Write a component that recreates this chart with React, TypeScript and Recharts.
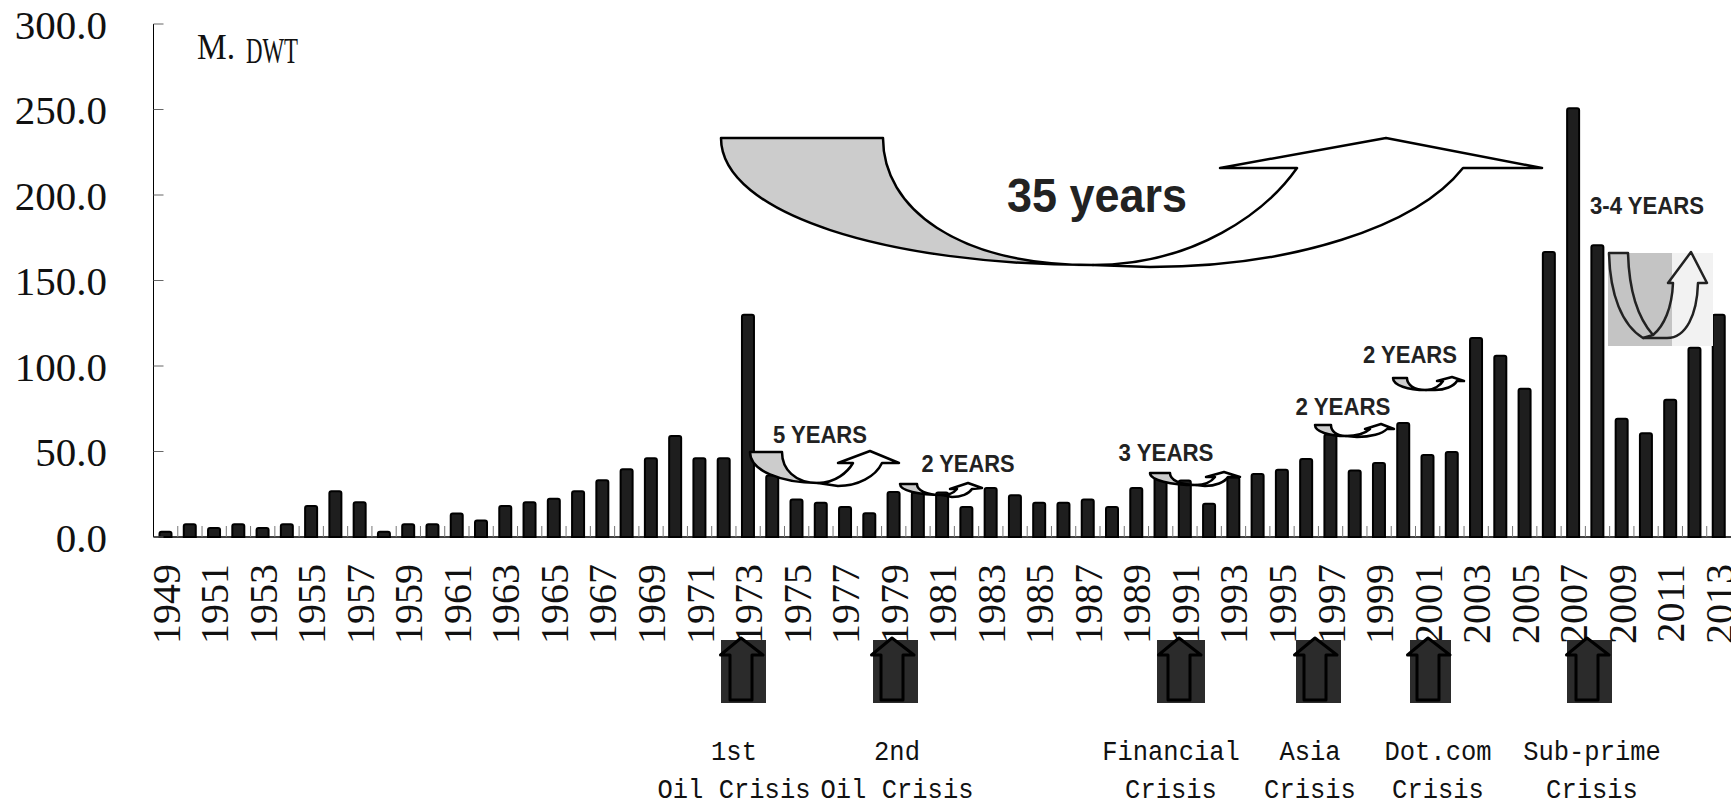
import React from 'react'
import { BarChart, Bar, XAxis, YAxis } from 'recharts'

// newbuilding deliveries, million DWT
const years = [
  '1949', '1950', '1951', '1952', '1953', '1954', '1955', '1956', '1957', '1958',
  '1959', '1960', '1961', '1962', '1963', '1964', '1965', '1966', '1967', '1968',
  '1969', '1970', '1971', '1972', '1973', '1974', '1975', '1976', '1977', '1978',
  '1979', '1980', '1981', '1982', '1983', '1984', '1985', '1986', '1987', '1988',
  '1989', '1990', '1991', '1992', '1993', '1994', '1995', '1996', '1997', '1998',
  '1999', '2000', '2001', '2002', '2003', '2004', '2005', '2006', '2007', '2008',
  '2009', '2010', '2011', '2012', '2013',
]
const mdwt = [
  3.1, 7.4, 5.3, 7.4, 5.3, 7.4, 18.1, 26.7, 20.3, 3.1,
  7.4, 7.4, 13.8, 9.6, 18.1, 20.3, 22.4, 26.7, 33.2, 39.6,
  46, 59, 46, 46, 130, 36, 22, 20, 17.6, 13.9,
  26.3, 26, 26, 17.6, 28.7, 24.4, 20, 20, 22, 17.6,
  28.7, 37, 33, 19.5, 34.8, 36.9, 39.4, 45.6, 60, 38.9,
  43.3, 66.7, 48, 49.7, 116.4, 106, 86.7, 166.7, 250.7, 170.6,
  69.2, 60.7, 80.2, 110.6, 129.9,
]
const yTicks = [0, 50, 100, 150, 200, 250, 300]

const crisisTop = ['1st', '2nd', 'Financial', 'Asia', 'Dot.com', 'Sub-prime']
const crisisBottom = ['Oil Crisis', 'Oil Crisis', 'Crisis', 'Crisis', 'Crisis', 'Crisis']
const cycleLabels = ['5 YEARS', '2 YEARS', '3 YEARS', '2 YEARS', '2 YEARS', '3-4 YEARS']

const data = years.map((year, i) => ({ year, value: mdwt[i] }))

const W = 1731
const H = 807
const AXIS_X = 153.5
const BASE_Y = 537
const BAND = (W - AXIS_X) / years.length

// annotation layout (pixels)
const crisisBoxes = [
  { x0: 721, x1: 766, tip: 741, label: 734 },
  { x0: 873, x1: 918, tip: 892, label: 897 },
  { x0: 1157, x1: 1205, tip: 1179, label: 1171 },
  { x0: 1296, x1: 1341, tip: 1315, label: 1310 },
  { x0: 1410, x1: 1451, tip: 1428, label: 1438 },
  { x0: 1567, x1: 1612, tip: 1587, label: 1592 },
]

type P = [number, number]
interface UTurn { tl: P; tr: P; m: P; bot: P; ie: P; lb: P; tip: P; rb: P; oe: P }

const uturns: UTurn[] = [
  { tl: [721, 138], tr: [883, 138], m: [1093, 265], bot: [1150, 267], ie: [1297, 168], lb: [1220, 168], tip: [1386, 138], rb: [1542, 168], oe: [1463, 168] },
  { tl: [750, 452], tr: [782, 452], m: [818, 483], bot: [838, 486], ie: [853, 463], lb: [838, 463], tip: [870, 451], rb: [899, 463], oe: [882, 463] },
  { tl: [900, 484], tr: [917, 484], m: [942, 495], bot: [952, 497], ie: [957, 489], lb: [950, 489], tip: [968, 483], rb: [982, 488], oe: [972, 489] },
  { tl: [1150, 473], tr: [1170, 473], m: [1196, 485], bot: [1205, 486], ie: [1215, 477], lb: [1206, 477], tip: [1224, 472], rb: [1240, 477], oe: [1228, 477] },
  { tl: [1315, 425], tr: [1331, 425], m: [1346, 436], bot: [1357, 437], ie: [1370, 429], lb: [1365, 429], tip: [1381, 424], rb: [1394, 429], oe: [1387, 429] },
  { tl: [1393, 378], tr: [1407, 378], m: [1426, 390], bot: [1435, 390], ie: [1443, 381], lb: [1437, 381], tip: [1452, 377], rb: [1464, 381], oe: [1457, 381] },
]

const cycleText = [
  { x: 820, y: 443, len: 94 },
  { x: 968, y: 472, len: 93 },
  { x: 1166, y: 461, len: 95 },
  { x: 1343, y: 415, len: 95 },
  { x: 1410, y: 363, len: 94 },
  { x: 1647, y: 214, len: 114 },
]

const pt = (p: P) => `${p[0]},${p[1]}`

function backPath(u: UTurn) {
  const h = u.m[1] - u.tl[1]
  return `M${pt(u.tl)} L${pt(u.tr)} C${u.tr[0]},${u.tr[1] + h * 0.55} ${u.tr[0] + (u.m[0] - u.tr[0]) * 0.35},${u.m[1]} ${pt(u.m)} ` +
    `C${u.tl[0] + (u.m[0] - u.tl[0]) * 0.45},${u.m[1]} ${u.tl[0]},${u.tl[1] + h * 0.6} ${pt(u.tl)} Z`
}

function frontPath(u: UTurn) {
  return `M${pt(u.m)} C${u.m[0] + (u.ie[0] - u.m[0]) * 0.5},${u.m[1]} ${u.ie[0] - (u.ie[0] - u.m[0]) * 0.15},${u.ie[1] + (u.m[1] - u.ie[1]) * 0.45} ${pt(u.ie)} ` +
    `L${pt(u.lb)} L${pt(u.tip)} L${pt(u.rb)} L${pt(u.oe)} ` +
    `C${u.oe[0] - (u.oe[0] - u.bot[0]) * 0.15},${u.oe[1] + (u.bot[1] - u.oe[1]) * 0.6} ${u.bot[0] + (u.oe[0] - u.bot[0]) * 0.45},${u.bot[1]} ${pt(u.bot)} ` +
    `L${pt(u.m)} Z`
}

const serif = '"Liberation Serif", "DejaVu Serif", serif'
const narrow = '"Liberation Sans Narrow", "Liberation Sans", Arial, sans-serif'
const mono = '"Liberation Mono", "DejaVu Sans Mono", monospace'

const YTick = (props: any) => {
  const { y, payload } = props
  return (
    <g>
      <line x1={AXIS_X} x2={AXIS_X + 10} y1={y} y2={y} stroke="#666" strokeWidth={1} />
      <text x={107} y={y} dy="0.36em" textAnchor="end" fontFamily={serif} fontSize={41} fill="#111">
        {Number(payload.value).toFixed(1)}
      </text>
    </g>
  )
}

const XTick = (props: any) => {
  const { x, payload, index } = props
  const top = 564
  return (
    <g>
      {index > 0 && (
        <line x1={x - BAND / 2} x2={x - BAND / 2} y1={BASE_Y} y2={BASE_Y - 11} stroke="#777" strokeWidth={1} />
      )}
      {index % 2 === 0 && (
        <text x={x} y={top} dy="0.35em" textAnchor="end" transform={`rotate(-90 ${x} ${top})`}
          fontFamily={serif} fontSize={40} fill="#111">
          {payload.value}
        </text>
      )}
    </g>
  )
}

export default function App() {
  return (
    <div style={{ position: 'absolute', left: 0, top: 0, width: W, height: H, background: '#fff' }}>
      <BarChart width={W} height={H} data={data} margin={{ top: 24, right: 0, left: 0, bottom: 0 }}>
        <XAxis
          dataKey="year"
          interval={0}
          height={H - BASE_Y}
          tickLine={false}
          axisLine={{ stroke: '#000', strokeWidth: 1.5 }}
          tick={XTick}
        />
        <YAxis
          domain={[0, 300]}
          ticks={yTicks}
          width={AXIS_X}
          tickLine={false}
          axisLine={{ stroke: '#000', strokeWidth: 1 }}
          tick={YTick}
        />
        <Bar
          dataKey="value"
          barSize={12}
          fill="#1e1e1e"
          stroke="#000"
          strokeWidth={2}
          radius={[2, 2, 0, 0]}
          isAnimationActive={false}
        />
      </BarChart>

      <svg width={W} height={H} style={{ position: 'absolute', left: 0, top: 0, pointerEvents: 'none' }}>
        {/* unit label */}
        <text x={197} y={59} fontFamily={serif} fontSize={36} textLength={38} lengthAdjust="spacingAndGlyphs" fill="#111">M.</text>
        <text x={246} y={63} fontFamily={serif} fontSize={36} textLength={52} lengthAdjust="spacingAndGlyphs" fill="#111">DWT</text>

        {/* 3-4 years box */}
        <rect x={1608} y={253} width={64} height={93} fill="#c4c4c4" />
        <rect x={1672} y={253} width={41} height={93} fill="#f2f2f2" />
        <path d="M1609,253 L1628,253 C1629,290 1638,318 1653,335 L1643,338 C1622,325 1610,295 1609,253 Z"
          fill="none" stroke="#222" strokeWidth={2.5} strokeLinejoin="round" />
        <path d="M1653,335 C1664,326 1672,308 1673,283 L1668,283 L1691,252 L1707,283 L1698,283 C1697,315 1686,338 1667,338 L1643,338"
          fill="none" stroke="#222" strokeWidth={2.5} strokeLinejoin="round" />

        {/* u-turn arrows */}
        {uturns.map((u, i) => (
          <g key={i}>
            <path d={backPath(u)} fill="#cccccc" stroke="#000" strokeWidth={2.5} strokeLinejoin="round" />
            <path d={frontPath(u)} fill="#fff" stroke="#000" strokeWidth={2.5} strokeLinejoin="round" />
          </g>
        ))}

        <text x={1097} y={212} textAnchor="middle" fontFamily={narrow} fontWeight="bold" fontSize={49}
          textLength={180} lengthAdjust="spacingAndGlyphs" fill="#222">35 years</text>

        {cycleLabels.map((t, i) => (
          <text key={i} x={cycleText[i].x} y={cycleText[i].y} textAnchor="middle" fontFamily={narrow}
            fontWeight="bold" fontSize={24} textLength={cycleText[i].len} lengthAdjust="spacingAndGlyphs" fill="#222">
            {t}
          </text>
        ))}

        {/* crisis markers */}
        {crisisBoxes.map((b, i) => (
          <g key={i}>
            <rect x={b.x0} y={640} width={b.x1 - b.x0} height={63} fill="#2b2b2b" />
            <path
              d={`M${b.tip},638 L${b.tip + 22},655 L${b.tip + 11},655 L${b.tip + 11},700 L${b.tip - 11},700 L${b.tip - 11},655 L${b.tip - 20.5},655 Z`}
              fill="none" stroke="#000" strokeWidth={3} strokeLinejoin="round" />
            <text x={b.label} y={760} textAnchor="middle" fontFamily={mono} fontSize={27}
              textLength={crisisTop[i].length * 15.3} lengthAdjust="spacingAndGlyphs" fill="#111">{crisisTop[i]}</text>
            <text x={b.label} y={798} textAnchor="middle" fontFamily={mono} fontSize={27}
              textLength={crisisBottom[i].length * 15.3} lengthAdjust="spacingAndGlyphs" fill="#111">{crisisBottom[i]}</text>
          </g>
        ))}
      </svg>
    </div>
  )
}
